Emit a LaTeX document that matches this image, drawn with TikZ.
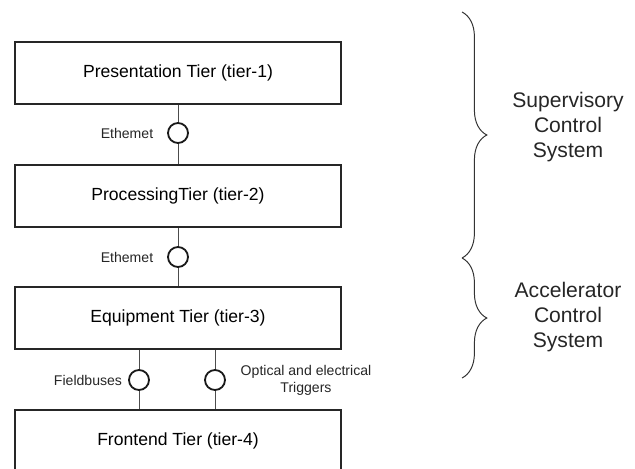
\documentclass[tikz,border=0pt]{standalone}
\usepackage{fontspec}
\setmainfont{Liberation Sans}
\usetikzlibrary{positioning,decorations.pathreplacing,calc}

\begin{document}
\begin{tikzpicture}[x=0.025cm, y=-0.025cm,
                    tier/.style = {rectangle, draw=black!85, line width=1.6pt, fill=white,
                            minimum width=8.15cm, minimum height=1.55cm, font=\fontsize{12.5}{15}\selectfont},
                    iface/.style = {circle, draw=black!90, line width=1.3pt, fill=white,
                            minimum size=0.5cm, inner sep=0pt},
                    link/.style = {draw=black!70, line width=0.7pt},
                    small label/.style = {font=\fontsize{10}{12}\selectfont, text=black!85, align=center},
                    system label/.style = {align=center, font=\fontsize{15}{17.8}\selectfont, text=black!85},
                    group brace/.style = {decorate, decoration={brace, amplitude=0.62cm}, draw=black!80, line width=0.7pt} ]

                \useasboundingbox (0,0) rectangle (635,468);
                \clip (0,0) rectangle (635,468);

                % the four tiers
                \node [tier] (pres) at (178,73) {Presentation Tier (tier-1)};
                \node [tier] (proc) at (178,196) {ProcessingTier (tier-2)};
                \node [tier] (equip) at (178,318) {Equipment Tier (tier-3)};
                \node [tier] (front) at (178,441) {Frontend Tier (tier-4)};

                % interfaces between the tiers
                \node [iface] (eth1) at (178,133) {};
                \node [iface] (eth2) at (178,257) {};
                \node [iface] (fbus) at (139,380) {};
                \node [iface] (trig) at (215,380) {};

                \draw [link] (pres) -- (eth1) -- (proc);
                \draw [link] (proc) -- (eth2) -- (equip);
                \draw [link] (equip.south -| fbus) -- (fbus) -- (front.north -| fbus);
                \draw [link] (equip.south -| trig) -- (trig) -- (front.north -| trig);

                \node [small label] (eth1 label) at (127,133) {Ethemet};
                \node [small label] (eth2 label) at (127,257) {Ethemet};
                \node [small label] (fbus label) at (88,380) {Fieldbuses};
                \node [small label] (trig label) at (306,380) {Optical and electrical\\Triggers};

                % grouping on the right
                \coordinate (sup top) at (462,12);
                \coordinate (split) at (462,258);
                \coordinate (acc bottom) at (462,378);
                \draw [group brace] (sup top) -- (split);
                \draw [group brace] (split) -- (acc bottom);

                \node [system label] (sup) at (568,127) {Supervisory\\Control\\System};
                \node [system label] (acc) at (568,317) {Accelerator\\Control\\System};

            \end{tikzpicture}
\end{document}
